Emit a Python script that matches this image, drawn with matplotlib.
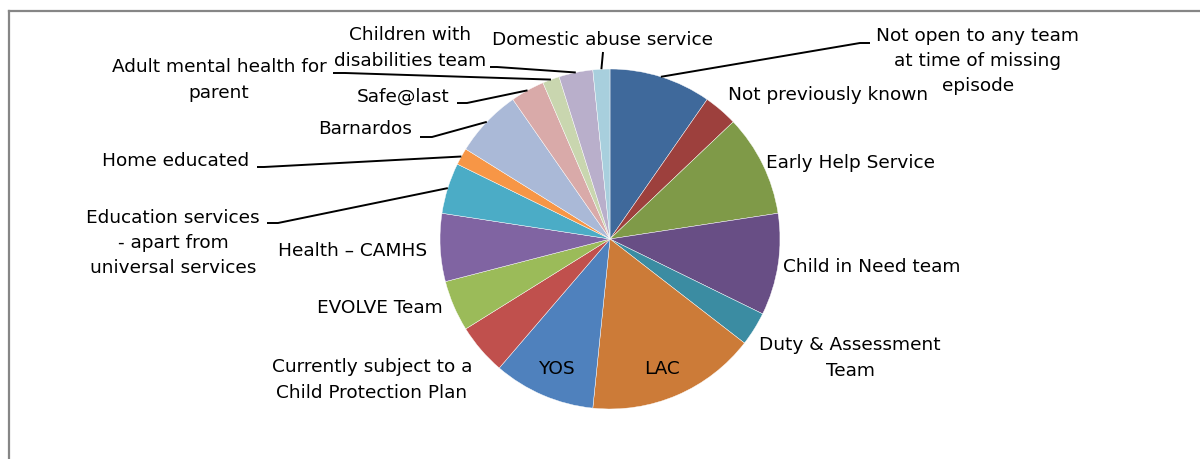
import matplotlib
matplotlib.use("Agg")
import matplotlib.pyplot as plt
import numpy as np

# Services known to the child at the time of the missing episode
categories = [
    "Not open to any team\nat time of missing\nepisode",
    "Not previously known",
    "Early Help Service",
    "Child in Need team",
    "Duty & Assessment\nTeam",
    "LAC",
    "YOS",
    "Currently subject to a\nChild Protection Plan",
    "EVOLVE Team",
    "Health \u2013 CAMHS",
    "Education services\n- apart from\nuniversal services",
    "Home educated",
    "Barnardos",
    "Safe@last",
    "Adult mental health for\nparent",
    "Children with\ndisabilities team",
    "Domestic abuse service",
]
counts = [6, 2, 6, 6, 2, 10, 6, 3, 3, 4, 3, 1, 4, 2, 1, 2, 1]

colors = [
    "#3F699B", "#9D403D", "#7F9A48", "#684E85", "#3B8CA2", "#CC7B38",
    "#4F81BD", "#C0504D", "#9BBB59", "#8064A2", "#4BACC6", "#F79646",
    "#AAB9D7", "#D9AAA9", "#C9D6AF", "#B9AFCB", "#A8CFDD",
]

W, H = 1200, 459


def px(x, y):
    """Pixel position (origin top-left) to axes data position."""
    return x, H - y


# label centres in pixels and optional leader elbows (pixels)
label_pos = [
    (978, 61), (828, 95), (851, 163), (872, 267), (850, 358),
    (662, 369), (556, 369), (372, 380), (380, 308), (353, 251),
    (173, 243), (176, 161), (365, 129), (403, 97), (219, 80),
    (410, 48), (603, 40),
]
leaders = {
    0: [(870, 43), (860, 43)],
    10: [(267, 223), (278, 223)],
    11: [(257, 167), (264, 167)],
    12: [(420, 137), (432, 137)],
    13: [(457, 103), (467, 103)],
    14: [(333, 73), (345, 73)],
    15: [(490, 67), (497, 67)],
    16: [(603, 52)],
}

fig = plt.figure(figsize=(W / 100, H / 100), dpi=100)
ax = fig.add_axes([0, 0, 1, 1])

cx, cy = px(610, 239)
radius = 170
wedges, _ = ax.pie(
    counts, colors=colors, startangle=90, counterclock=False,
    center=(cx, cy), radius=radius, frame=True,
    wedgeprops=dict(edgecolor="white", linewidth=0.3),
)
ax.set_xlim(0, W)
ax.set_ylim(0, H)
ax.set_aspect("equal")
ax.axis("off")

font = dict(family="DejaVu Sans", fontsize=13.3, color="black")
for i, (w, text) in enumerate(zip(wedges, categories)):
    tx, ty = px(*label_pos[i])
    ax.text(tx, ty, text, ha="center", va="center", multialignment="center",
            linespacing=1.52, **font)
    if i in leaders:
        mid = np.deg2rad((w.theta1 + w.theta2) / 2)
        ex, ey = cx + radius * np.cos(mid), cy + radius * np.sin(mid)
        pts = [px(*p) for p in leaders[i]]
        xs = [p[0] for p in pts] + [ex]
        ys = [p[1] for p in pts] + [ey]
        ax.plot(xs, ys, color="black", linewidth=1.4, solid_capstyle="butt")

# chart area frame (top and left edges)
frame_color = "#868686"
ax.plot([9, W], [H - 11, H - 11], color=frame_color, linewidth=1.6, clip_on=False)
ax.plot([9, 9], [H - 11, 0], color=frame_color, linewidth=1.6, clip_on=False)

fig.savefig("out.png", dpi=100, facecolor="white")
